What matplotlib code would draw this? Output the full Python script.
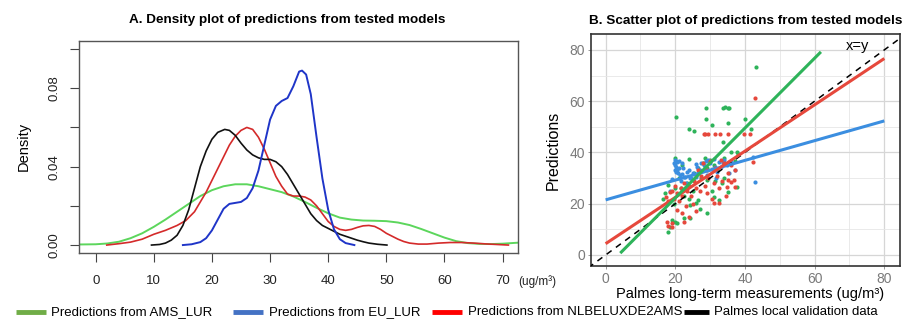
import matplotlib
matplotlib.use("Agg")
import matplotlib.pyplot as plt
from matplotlib.lines import Line2D

# ---- panel A: density curves ----
ams_x = [-2.8, 0, 2, 4, 6, 8, 10, 12, 14, 16, 18, 20, 22, 24, 26, 28, 30, 32, 34, 36,
         38, 40, 42, 44, 46, 48, 50, 52, 54, 56, 58, 60, 62, 64, 66, 68, 70, 72.6]
ams_d = [0.0003, 0.0004, 0.0008, 0.0017, 0.0035, 0.006, 0.0093, 0.013, 0.017, 0.021,
         0.025, 0.028, 0.030, 0.031, 0.031, 0.030, 0.0285, 0.027, 0.0248, 0.022,
         0.019, 0.0162, 0.014, 0.013, 0.0125, 0.0124, 0.0122, 0.0115, 0.0102, 0.0082,
         0.006, 0.0038, 0.002, 0.001, 0.0006, 0.0005, 0.0007, 0.0012]

eu_x = [15.0, 16.5, 18, 19, 20, 21, 22, 23, 24, 25, 26, 27, 28, 29, 30, 31, 32, 33, 34,
        35, 35.5, 36.2, 37, 38, 39, 40, 41, 42, 43, 44.5]
eu_d = [0.0, 0.0004, 0.0015, 0.0035, 0.0075, 0.013, 0.0185, 0.021, 0.0215, 0.022,
        0.024, 0.029, 0.038, 0.051, 0.064, 0.071, 0.0735, 0.075, 0.081, 0.0885,
        0.089, 0.087, 0.077, 0.055, 0.034, 0.018, 0.008, 0.003, 0.001, 0.0]

nl_x = [1.9, 4, 6, 8, 10, 12, 14, 15.5, 17, 18, 19, 20, 21, 22, 23, 24, 25, 26, 27, 28,
        29, 30, 31, 32, 33, 34, 35, 36, 37, 38, 39, 40, 41, 42, 43, 44, 45, 46, 47, 48,
        49, 50, 51, 52, 53, 54, 55.5, 57, 59, 61, 63, 65, 67, 69, 71]
nl_d = [0.0, 0.0007, 0.0015, 0.003, 0.0055, 0.0075, 0.010, 0.0125, 0.017, 0.022,
        0.027, 0.033, 0.039, 0.045, 0.051, 0.0555, 0.0585, 0.060, 0.059, 0.055,
        0.049, 0.042, 0.035, 0.030, 0.026, 0.025, 0.025, 0.0245, 0.023, 0.020,
        0.016, 0.012, 0.0095, 0.008, 0.0075, 0.008, 0.009, 0.0098, 0.010, 0.0095,
        0.008, 0.006, 0.0045, 0.003, 0.0018, 0.001, 0.0005, 0.0005, 0.001, 0.0013,
        0.0013, 0.001, 0.0006, 0.0003, 0.0]

palmes_x = [9.6, 11, 12, 13, 14, 15, 16, 17, 18, 19, 20, 21, 22.2, 23, 24, 25, 26, 27,
            28, 29, 30, 31, 32, 33, 34, 35, 36, 37, 38, 39, 40, 41, 42, 43, 44, 45, 46,
            47, 48.5, 50.1]
palmes_d = [0.0, 0.0003, 0.001, 0.0025, 0.005, 0.010, 0.018, 0.029, 0.040, 0.048,
            0.054, 0.0575, 0.059, 0.0585, 0.056, 0.052, 0.0485, 0.046, 0.0445, 0.0437,
            0.0437, 0.0425, 0.040, 0.036, 0.031, 0.026, 0.021, 0.016, 0.0125, 0.010,
            0.0085, 0.007, 0.0055, 0.0045, 0.0035, 0.0025, 0.0017, 0.001, 0.0004, 0.0]

# ---- panel B: scatter points (x = Palmes, y = prediction) ----
ams_pts = [(20.1, 53.7), (28.8, 57.2), (28.8, 53.0), (30.5, 50.6), (33.6, 57.3),
           (34.3, 57.6), (35.0, 57.5), (35.5, 57.2), (35.2, 51.6), (23.8, 49.0),
           (25.5, 48.4), (39.9, 53.2), (41.7, 49.2), (43.2, 73.2), (33.6, 44.0),
           (37.6, 40.0), (18.0, 9.1), (18.5, 11.0), (19.9, 13.0), (20.6, 12.3),
           (19.0, 13.6), (22.5, 14.6), (24.1, 14.6), (29.0, 16.2), (24.2, 19.5),
           (26.0, 20.1), (26.6, 21.4), (31.1, 22.7), (32.4, 21.4), (35.2, 24.7),
           (37.6, 26.7), (29.2, 29.3), (31.4, 29.0), (33.3, 28.0), (20.0, 37.7),
           (23.8, 37.3), (17.1, 24.1), (17.8, 27.3), (21.5, 26.0), (22.5, 23.0),
           (23.5, 28.0), (25.0, 25.0), (25.5, 32.0), (26.5, 34.0), (27.5, 30.0),
           (28.0, 36.0), (29.0, 34.0), (30.0, 37.0), (31.0, 35.0), (32.0, 33.0),
           (34.0, 38.0), (36.0, 40.0), (38.0, 39.5), (24.0, 22.0), (27.0, 18.0),
           (19.5, 20.0), (21.0, 30.0), (22.0, 35.0), (30.5, 25.0), (34.0, 30.0),
           (28.5, 38.0), (20.0, 26.0), (16.5, 22.0), (37.0, 36.5)]

eu_pts = [(19.7, 35.8), (20.0, 35.1), (20.2, 34.2), (20.4, 33.2), (20.9, 32.1),
          (21.4, 31.2), (21.9, 35.8), (22.3, 33.8), (22.8, 30.6), (23.3, 32.5),
          (24.2, 29.9), (25.2, 31.9), (26.2, 34.5), (27.1, 33.2), (28.1, 35.1),
          (29.0, 31.2), (30.0, 35.8), (31.4, 34.5), (32.4, 36.4), (33.6, 35.8),
          (34.8, 35.1), (37.2, 33.2), (42.9, 28.6), (42.4, 38.1), (19.8, 37.0),
          (20.1, 36.5), (20.5, 36.2), (19.9, 33.0), (21.0, 34.0), (21.6, 29.0),
          (22.0, 31.5), (23.0, 28.0), (23.8, 33.0), (24.5, 30.0), (25.8, 35.5),
          (26.6, 32.0), (27.5, 36.0), (28.5, 34.0), (29.5, 37.0), (30.6, 33.5),
          (31.0, 37.5), (32.0, 32.5), (33.0, 34.5), (34.0, 37.0), (35.5, 32.0),
          (36.0, 36.5), (24.0, 27.0), (22.5, 30.5), (21.2, 36.5), (20.3, 32.5),
          (26.0, 30.5), (28.8, 36.8), (31.8, 30.0), (18.5, 25.0), (19.0, 29.5)]

nl_pts = [(28.1, 47.0), (28.6, 47.0), (29.5, 47.0), (31.4, 47.0), (32.8, 47.0),
          (35.2, 47.0), (39.7, 47.0), (41.5, 47.0), (43.0, 61.2), (42.4, 36.4),
          (17.5, 13.0), (17.8, 11.2), (19.0, 12.6), (19.0, 11.0), (22.6, 13.0),
          (31.0, 20.1), (32.4, 20.1), (17.4, 22.7), (18.5, 24.7), (34.8, 26.7),
          (37.2, 26.7), (36.9, 29.2), (35.2, 29.2), (19.0, 25.0), (19.5, 22.0),
          (20.0, 27.0), (20.5, 24.0), (21.0, 21.0), (21.5, 26.0), (22.0, 23.0),
          (22.5, 28.0), (23.0, 19.0), (23.5, 25.0), (24.0, 27.0), (24.5, 23.0),
          (25.0, 20.0), (25.5, 29.0), (26.0, 26.0), (26.5, 33.0), (27.0, 25.0),
          (27.5, 31.0), (28.0, 36.0), (28.5, 27.0), (29.0, 33.0), (29.5, 30.0),
          (30.0, 36.5), (31.0, 28.0), (31.5, 34.0), (32.0, 31.0), (33.0, 37.0),
          (33.5, 29.0), (34.0, 36.0), (35.0, 32.0), (36.0, 35.0), (37.0, 33.0),
          (34.5, 23.0), (30.5, 22.0), (26.0, 17.0), (24.0, 15.0), (22.0, 16.5),
          (20.5, 17.5), (18.0, 21.0), (36.0, 28.5), (32.5, 26.0), (29.0, 24.0)]

# fitted lines: (intercept, slope, x start, x end)
ams_fit = (-5.0, 1.363, 4.2, 61.8)
eu_fit = (21.5, 0.385, 0.0, 80.0)
nl_fit = (4.4, 0.903, 0.0, 80.0)

legend_labels = ["Predictions from AMS_LUR", "Predictions from EU_LUR",
                 "Predictions from NLBELUXDE2AMS", "Palmes local validation data"]
legend_colors = ["#70ad47", "#4472c4", "#ff0000", "#000000"]

plt.rcParams["font.family"] = ["Liberation Sans", "DejaVu Sans"]

fig = plt.figure(figsize=(9.17, 3.2), dpi=100)

# ---------------- panel A ----------------
axA = fig.add_axes([79.3 / 917, 1 - 252.7 / 320, 438.4 / 917, 211.7 / 320])
axA.plot(ams_x, ams_d, color="#5cd65c", lw=1.4)
axA.plot(nl_x, nl_d, color="#d42a2a", lw=1.2)
axA.plot(palmes_x, palmes_d, color="#111111", lw=1.2)
axA.plot(eu_x, eu_d, color="#1f35c8", lw=1.4)

axA.set_xlim(-2.82, 72.6)
axA.set_ylim(-0.0039, 0.1041)
axA.set_xticks(range(0, 71, 10))
axA.set_xticklabels([str(v) for v in range(0, 71, 10)])
axA.set_yticks([0, 0.02, 0.04, 0.06, 0.08, 0.10])
axA.set_yticklabels(["0.00", "", "0.04", "", "0.08", ""])
axA.tick_params(axis="both", direction="out", length=6.2, width=0.8,
                color="#444444", labelsize=9.5, labelcolor="#222222")
axA.tick_params(axis="x", pad=10)
axA.tick_params(axis="y", pad=7, labelrotation=90)
for lab in axA.get_yticklabels():
    lab.set_va("center")
for sp in axA.spines.values():
    sp.set_color("#555555")
    sp.set_linewidth(1.0)
axA.set_ylabel("Density", fontsize=10.5, labelpad=13)
axA.text(72.75, -0.0186, "(ug/m\u00b3)", fontsize=8.5, ha="left", va="center",
         color="#222222", clip_on=False)

fig.text(287 / 917, 1 - 20 / 320, "A. Density plot of predictions from tested models",
         ha="center", va="center", fontsize=9.7, fontweight="bold")

# ---------------- panel B ----------------
axB = fig.add_axes([591 / 917, 1 - 266 / 320, 309 / 917, 232 / 320])
axB.set_xlim(-4.2, 84.5)
axB.set_ylim(-4.3, 86.2)
axB.set_xticks([0, 20, 40, 60, 80])
axB.set_yticks([0, 20, 40, 60, 80])
axB.set_xticks([10, 30, 50, 70], minor=True)
axB.set_yticks([10, 30, 50, 70], minor=True)
axB.grid(which="major", color="#d6d6d6", lw=0.9)
axB.grid(which="minor", color="#e6e6e6", lw=0.6)
axB.set_axisbelow(True)
axB.tick_params(which="minor", length=0)
axB.tick_params(which="major", length=2.5, width=0.6, color="#888888",
                labelsize=10, labelcolor="#7a7a7a", pad=2)
for sp in axB.spines.values():
    sp.set_color("#333333")
    sp.set_linewidth(1.2)

pt_size = 9
axB.scatter([p[0] for p in ams_pts], [p[1] for p in ams_pts], s=pt_size,
            color="#2eb35a", lw=0, zorder=2)
axB.scatter([p[0] for p in eu_pts], [p[1] for p in eu_pts], s=pt_size,
            color="#3b8ee0", lw=0, zorder=2)
axB.scatter([p[0] for p in nl_pts], [p[1] for p in nl_pts], s=pt_size,
            color="#e6483c", lw=0, zorder=2)

axB.plot([-5, 90], [-5, 90], color="black", lw=1.1, ls=(0, (4, 3.5)), zorder=3)
for fit, col in [(eu_fit, "#3b8ee0"), (nl_fit, "#e6483c"), (ams_fit, "#2eb35a")]:
    a, b, x0, x1 = fit
    axB.plot([x0, x1], [a + b * x0, a + b * x1], color=col, lw=2.2,
             solid_capstyle="butt", zorder=4)
axB.text(72.3, 81.5, "x=y", fontsize=10.5, ha="center", va="center")

axB.set_ylabel("Predictions", fontsize=11.5, labelpad=6)
fig.text(750 / 917, 1 - 294 / 320, "Palmes long-term measurements (ug/m\u00b3)",
         ha="center", va="center", fontsize=10.5)
fig.text(746 / 917, 1 - 20.7 / 320, "B. Scatter plot of predictions from tested models",
         ha="center", va="center", fontsize=9.7, fontweight="bold")

# ---------------- shared legend at the bottom ----------------
handle_x = [16, 233, 432, 684]
handle_w = [30, 30, 30, 25]
text_x = [51, 269, 468, 714]
for hx, hw, tx, lab, col in zip(handle_x, handle_w, text_x, legend_labels, legend_colors):
    fig.add_artist(Line2D([hx / 917, (hx + hw) / 917], [1 - 312 / 320] * 2,
                          color=col, lw=3.5, solid_capstyle="butt"))
    fig.text(tx / 917, 1 - 312 / 320, lab, ha="left", va="center", fontsize=9.5)

fig.savefig("out.png", dpi=100)
